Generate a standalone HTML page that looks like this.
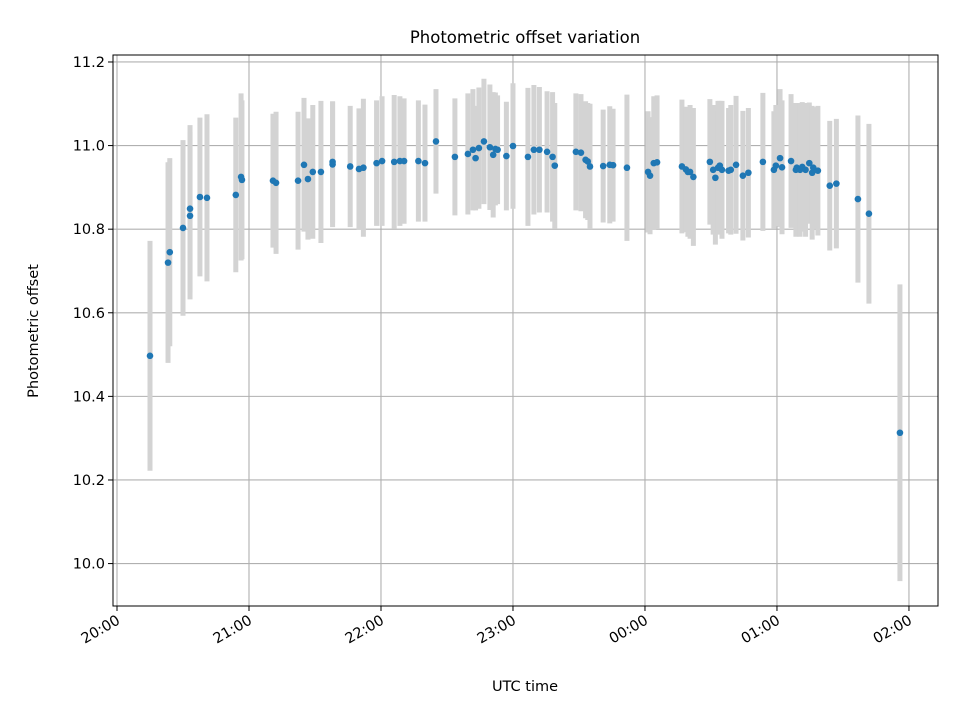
<!DOCTYPE html>
<html><head><meta charset="utf-8"><style>
body{margin:0;background:#fff;}
svg text{font-family:"DejaVu Sans","Liberation Sans",sans-serif;}
</style></head><body>
<svg id="chart" width="960" height="720" xmlns="http://www.w3.org/2000/svg">
<rect width="960" height="720" fill="#fff"/>
<text x="525" y="43" font-size="16.5" text-anchor="middle">Photometric offset variation</text>
<g id="grid"></g><g id="bars"></g><g id="pts"></g><g id="axes"></g>
<text x="525" y="691" font-size="14.5" text-anchor="middle">UTC time</text>
<text transform="translate(38,331) rotate(-90)" font-size="14.5" text-anchor="middle">Photometric offset</text>
</svg>
<script>
// minutes after 20:00 UTC
const times=[15,23.2,24,30,33.2,33.2,37.7,40.9,54,56.4,56.8,70.9,72.3,82.3,85,86.8,89,92.7,98,98,106,110,112,118,120.5,126,128.6,130.5,137,140,145,153.6,159.5,161.8,163,164.5,166.8,169.5,171,172,173,177,180,186.8,189.5,192,195.5,198,199,208.6,210.9,213,214,215,221,224,225.5,231.8,241.4,242.3,244,245.5,256.8,258.6,259.5,260.5,262,269.5,271,272,273.2,274,275,278,279,281.4,284.5,287,293.6,298.6,299.5,301.4,302.3,306.4,308.6,309,310.5,311.5,313,314.7,316,316.5,318.6,324,327,336.8,341.8,355.9];
const values=[10.497,10.72,10.745,10.803,10.849,10.832,10.877,10.875,10.882,10.925,10.918,10.916,10.911,10.916,10.954,10.92,10.937,10.937,10.961,10.955,10.95,10.944,10.947,10.958,10.963,10.961,10.963,10.963,10.963,10.958,11.01,10.973,10.98,10.99,10.97,10.994,11.01,10.996,10.978,10.992,10.99,10.975,10.999,10.973,10.99,10.99,10.985,10.973,10.952,10.985,10.983,10.966,10.962,10.95,10.951,10.954,10.953,10.947,10.937,10.928,10.958,10.96,10.95,10.943,10.937,10.937,10.925,10.961,10.942,10.923,10.947,10.952,10.942,10.94,10.942,10.954,10.928,10.935,10.961,10.942,10.952,10.97,10.948,10.963,10.942,10.947,10.942,10.949,10.942,10.958,10.935,10.947,10.94,10.904,10.909,10.872,10.837,10.313];
const errors=[0.275,0.24,0.225,0.21,0.2,0.2,0.19,0.2,0.185,0.2,0.19,0.16,0.17,0.165,0.16,0.145,0.16,0.17,0.145,0.15,0.145,0.145,0.165,0.15,0.155,0.16,0.155,0.15,0.145,0.14,0.125,0.14,0.145,0.145,0.125,0.145,0.15,0.15,0.15,0.135,0.13,0.13,0.15,0.165,0.155,0.15,0.145,0.155,0.15,0.14,0.14,0.14,0.14,0.15,0.135,0.14,0.135,0.175,0.145,0.14,0.16,0.16,0.16,0.15,0.155,0.16,0.165,0.15,0.155,0.16,0.16,0.155,0.165,0.15,0.155,0.165,0.155,0.155,0.165,0.14,0.145,0.165,0.16,0.16,0.16,0.155,0.16,0.155,0.16,0.145,0.16,0.145,0.155,0.155,0.155,0.2,0.215,0.355];
const xTickLabels=["20:00","21:00","22:00","23:00","00:00","01:00","02:00"];
const yTickLabels=["10.0","10.2","10.4","10.6","10.8","11.0","11.2"];
const L=113,R=938,T=55,B=606;
const xMin=-1.818,xMax=373.2,yMin=9.8985,yMax=11.2167;
const xs=m=>L+(m-xMin)/(xMax-xMin)*(R-L);
const ys=v=>B-(v-yMin)/(yMax-yMin)*(B-T);
const NS="http://www.w3.org/2000/svg";
function mk(tag,parent,attrs){const e=document.createElementNS(NS,tag);for(const k in attrs)e.setAttribute(k,attrs[k]);parent.appendChild(e);return e;}
const grid=document.getElementById('grid'),axes=document.getElementById('axes'),bars=document.getElementById('bars'),pts=document.getElementById('pts');
xTickLabels.forEach((lab,i)=>{const x=xs(i*60);
 const g=mk('line',grid,{x1:x,x2:x,y1:T,y2:B,stroke:'#b0b0b0','stroke-width':1.1});
 
 const t=mk('line',axes,{x1:x,x2:x,y1:B,y2:B+5,stroke:'#000','stroke-width':1});
 
 const tx=mk('text',axes,{x:x+4,y:B+17,'font-size':14.5,'text-anchor':'end',transform:`rotate(-30 ${x+4} ${B+17})`});
 tx.textContent=lab;
 
});
yTickLabels.forEach(lab=>{const y=ys(parseFloat(lab));
 const g=mk('line',grid,{x1:L,x2:R,y1:y,y2:y,stroke:'#b0b0b0','stroke-width':1.1});
 
 const t=mk('line',axes,{x1:L-5,x2:L,y1:y,y2:y,stroke:'#000','stroke-width':1});
 
 const tx=mk('text',axes,{x:L-8,y:y+5,'font-size':14.5,'text-anchor':'end'});
 tx.textContent=lab;
 
});
const fr=mk('rect',axes,{x:L,y:T,width:R-L,height:B-T,fill:'none',stroke:'#000','stroke-width':1});

times.forEach((m,i)=>{const x=xs(m);
 const b=mk('line',bars,{x1:x,x2:x,y1:ys(values[i]+errors[i]),y2:ys(values[i]-errors[i]),stroke:'#d3d3d3','stroke-width':5});
 
 const c=mk('circle',pts,{cx:x,cy:ys(values[i]),r:3.3,fill:'#1f77b4'});
 
});
</script>
</body></html>
